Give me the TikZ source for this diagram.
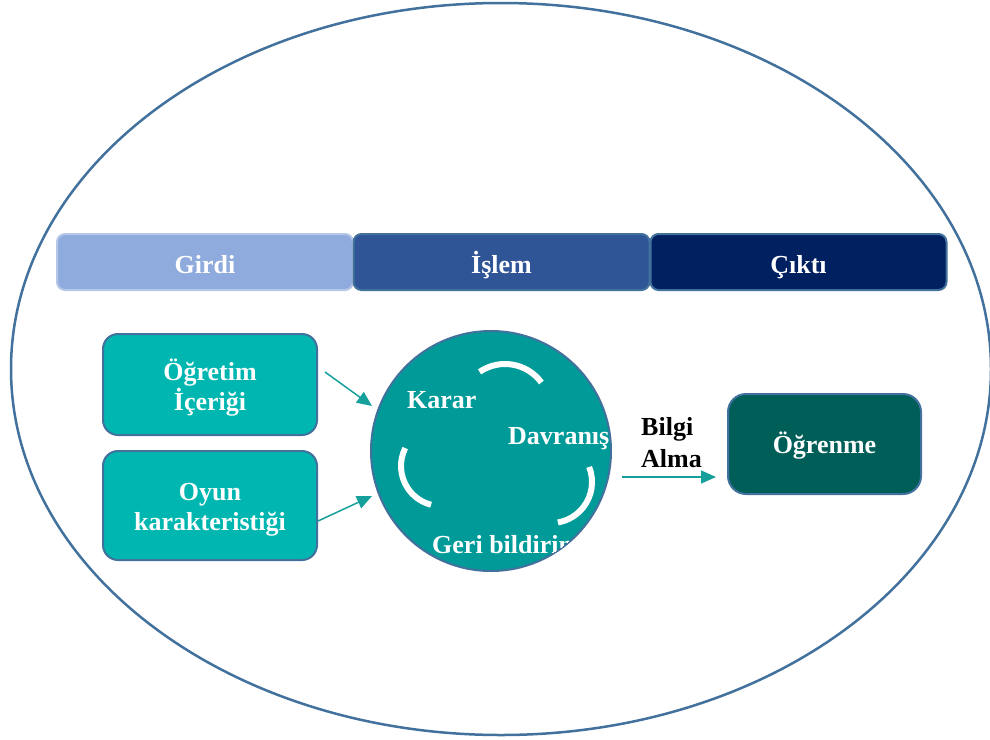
\documentclass[tikz,border=0pt]{standalone}
\usepackage{fontspec}
\setmainfont{Liberation Serif}
\usetikzlibrary{arrows.meta}
\definecolor{edgeblue}{HTML}{41719C}
\definecolor{girdifill}{HTML}{8FAADC}
\definecolor{girdiedge}{HTML}{B4C7E7}
\definecolor{islemfill}{HTML}{2F5597}
\definecolor{ciktifill}{HTML}{002060}
\definecolor{inbox}{HTML}{00B6B0}
\definecolor{circfill}{HTML}{009A98}
\definecolor{outbox}{HTML}{005E58}
\definecolor{arrowteal}{HTML}{16A09C}
\tikzset{
  bar/.style={draw=edgeblue, rounded corners=8pt, line width=2pt, minimum width=296pt, minimum height=56pt, text=white, inner sep=0pt, text height=22pt, text depth=0pt},
  inputbox/.style={draw=edgeblue, fill=inbox, rounded corners=15pt, line width=2pt, minimum width=214pt, inner sep=0pt},
  boxtext/.style={text=white, align=center, inner sep=0pt},
  label/.style={text=white, inner sep=0pt, anchor=base west},
  conn/.style={draw=arrowteal, line width=1.5pt, -{Triangle[length=15pt, width=13pt]}},
  cyclearc/.style={white, line width=6pt}
}
\begin{document}
\begin{tikzpicture}[x=1pt, y=-1pt, font=\fontsize{26}{30}\selectfont\bfseries]
\useasboundingbox (0,0) rectangle (990,739);
% outer ellipse
\draw[edgeblue, line width=2.5pt] (501,369) ellipse [x radius=490, y radius=366];
% header bars
\node[bar, fill=girdifill, draw=girdiedge] (girdi) at (205,262) {Girdi};
\node[bar, fill=islemfill] (islem) at (501.5,262) {İşlem};
\node[bar, fill=ciktifill] (cikti) at (798.5,262) {Çıktı};
% input boxes
\node[inputbox, minimum height=101pt] (ogretim) at (210,384.5) {};
\node[boxtext] (ogretimtext) at ([yshift=-3.5]ogretim.center) {Öğretim\\İçeriği};
\node[inputbox, minimum height=109pt] (oyun) at (210,505.5) {};
\node[boxtext] (oyuntext) at ([yshift=-4.5]oyun.center) {Oyun\\karakteristiği};
% process circle
\node[circle, draw=edgeblue, fill=circfill, line width=2pt, minimum size=240pt, inner sep=0pt] (proc) at (491,451) {};
\draw[cyclearc] ([shift={(-124.4:45)}]505,409) arc[start angle=-124.4, end angle=-36.1, radius=45];
\draw[cyclearc] ([shift={(-153.4:40)}]441,466) arc[start angle=-153.4, end angle=-255.6, radius=40];
\draw[cyclearc] ([shift={(-21.5:41)}]551,482) arc[start angle=-21.5, end angle=80.3, radius=41];
\begin{scope}
  \clip (proc.center) circle (119pt);
  \node[label] (karar) at (407,408) {Karar};
  \node[label] (davranis) at (508,444) {Davranış};
  \node[label] (geri) at (432,553) {Geri bildirim};
\end{scope}
% output box
\node[draw=edgeblue, fill=outbox, rounded corners=18pt, line width=2pt, minimum width=193pt, minimum height=100pt, text=white, inner sep=0pt, text height=22pt, text depth=4pt] (ogrenme) at (824.5,444) {Öğrenme};
% connectors
\coordinate (s1) at (325,372);
\coordinate (e1) at (372,406);
\coordinate (s2) at (318,521);
\coordinate (e2) at (372,496);
\coordinate (s3) at (622,477);
\coordinate (e3) at (716,477);
\draw[conn] (s1) -- (e1);
\draw[conn] (s2) -- (e2);
\draw[conn] (s3) -- (e3);
\node[anchor=base west, align=left, inner sep=0pt, text=black, font=\fontsize{26}{32}\selectfont\bfseries] (bilgi) at (641,467) {Bilgi\\Alma};
\end{tikzpicture}
\end{document}
